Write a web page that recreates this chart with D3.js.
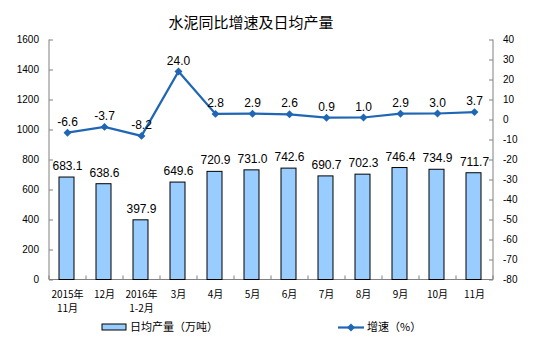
<!DOCTYPE html>
<html><head><meta charset="utf-8">
<script src="https://cdn.jsdelivr.net/npm/d3@7"></script>
<style>body{margin:0;background:#fff}svg{display:block}</style>
</head><body>
<script>
const categories = [["2015年","11月"],["12月"],["2016年","1-2月"],["3月"],["4月"],["5月"],["6月"],["7月"],["8月"],["9月"],["10月"],["11月"]];
const output = [683.1,638.6,397.9,649.6,720.9,731.0,742.6,690.7,702.3,746.4,734.9,711.7];
const growth = [-6.6,-3.7,-8.2,24.0,2.8,2.9,2.6,0.9,1.0,2.9,3.0,3.7];
const leftTicks = [0,200,400,600,800,1000,1200,1400,1600];
const rightTicks = [40,30,20,10,0,-10,-20,-30,-40,-50,-60,-70,-80];
const title = "水泥同比增速及日均产量";
const legendBar = "日均产量（万吨）";
const legendLine = "增速（%）";

const W=536,H=346;
const svg=d3.select("body").append("svg").attr("width",W).attr("height",H);
const L=49,R=493,T=39.5,B=279.5;
const lineColor="#1f67b5";
const x=d3.scaleBand().domain(d3.range(categories.length)).range([L,R]);
const yL=d3.scaleLinear().domain([0,1600]).range([B,T]);
const yR=d3.scaleLinear().domain([-80,40]).range([B,T]);
const font="'Liberation Sans',Arial,sans-serif";
const cjk="'Noto Sans CJK SC',sans-serif";
const fmt1=d=>d.toFixed(1);

svg.append("text").attr("x",251).attr("y",28).attr("text-anchor","middle")
  .attr("font-family",cjk).attr("font-size",15).attr("fill","#000").text(title);

// left axis
const gL=svg.append("g").attr("transform",`translate(${L},0)`)
  .call(d3.axisLeft(yL).tickValues(leftTicks).tickSize(-4).tickPadding(10).tickFormat(d=>String(d)));
// right axis
const gR=svg.append("g").attr("transform",`translate(${R},0)`)
  .call(d3.axisRight(yR).tickValues(rightTicks).tickSize(-4).tickPadding(10).tickFormat(d=>String(d)));
[gL,gR].forEach(g=>{
  g.select(".domain").attr("stroke","#808080").attr("d",`M0,${T}V${B}`);
  g.selectAll(".tick line").attr("stroke","#808080");
  g.selectAll("text").attr("font-family",font).attr("font-size",10).attr("fill","#000");
});
// bottom axis
svg.append("line").attr("x1",L).attr("x2",R).attr("y1",B).attr("y2",B).attr("stroke","#808080");
svg.append("g").selectAll("line").data(d3.range(categories.length+1)).join("line")
  .attr("x1",i=>L+i*x.step()).attr("x2",i=>L+i*x.step()).attr("y1",B).attr("y2",B-4).attr("stroke","#808080");

// x labels
const xl=svg.append("g").selectAll("text").data(categories).join("text")
  .attr("text-anchor","middle").attr("font-family",cjk).attr("font-size",10).attr("fill","#000")
  .attr("x",(d,i)=>x(i)+x.bandwidth()/2);
xl.each(function(d){
  const t=d3.select(this);
  d.forEach((s,j)=>t.append("tspan").attr("x",t.attr("x")).attr("y",298+j*14).text(s));
});

// bars
const bw=15;
svg.append("g").selectAll("rect").data(output).join("rect")
  .attr("x",(d,i)=>x(i)+x.bandwidth()/2-bw/2-1).attr("width",bw)
  .attr("y",d=>yL(d)).attr("height",d=>B-yL(d))
  .attr("fill","#99ccff").attr("stroke","#000").attr("stroke-width",1);
svg.append("g").selectAll("text").data(output).join("text")
  .attr("x",(d,i)=>x(i)+x.bandwidth()/2).attr("y",d=>yL(d)-7)
  .attr("text-anchor","middle").attr("font-family",font).attr("font-size",12).attr("fill","#000")
  .text(fmt1);

// line
const line=d3.line().x((d,i)=>x(i)+x.bandwidth()/2).y(d=>yR(d));
svg.append("path").datum(growth).attr("d",line).attr("fill","none").attr("stroke",lineColor).attr("stroke-width",2.2);
const diamond=d3.symbol().type(d3.symbolDiamond2).size(40);
svg.append("g").selectAll("path").data(growth).join("path")
  .attr("transform",(d,i)=>`translate(${x(i)+x.bandwidth()/2},${yR(d)})`).attr("d",diamond).attr("fill",lineColor);
svg.append("g").selectAll("text").data(growth).join("text")
  .attr("x",(d,i)=>x(i)+x.bandwidth()/2).attr("y",d=>yR(d)-7)
  .attr("text-anchor","middle").attr("font-family",font).attr("font-size",12).attr("fill","#000")
  .text(fmt1);

// legend
svg.append("rect").attr("x",102).attr("y",324).attr("width",24).attr("height",6)
  .attr("fill","#99ccff").attr("stroke","#000");
svg.append("text").attr("x",130).attr("y",331).attr("font-family",cjk).attr("font-size",11).attr("fill","#000").text(legendBar);
svg.append("line").attr("x1",338).attr("x2",364).attr("y1",327.5).attr("y2",327.5).attr("stroke",lineColor).attr("stroke-width",2.2);
svg.append("path").attr("transform","translate(351,327.5)").attr("d",diamond).attr("fill",lineColor);
svg.append("text").attr("x",367).attr("y",331).attr("font-family",cjk).attr("font-size",11).attr("fill","#000").text(legendLine);
</script>
</body></html>
